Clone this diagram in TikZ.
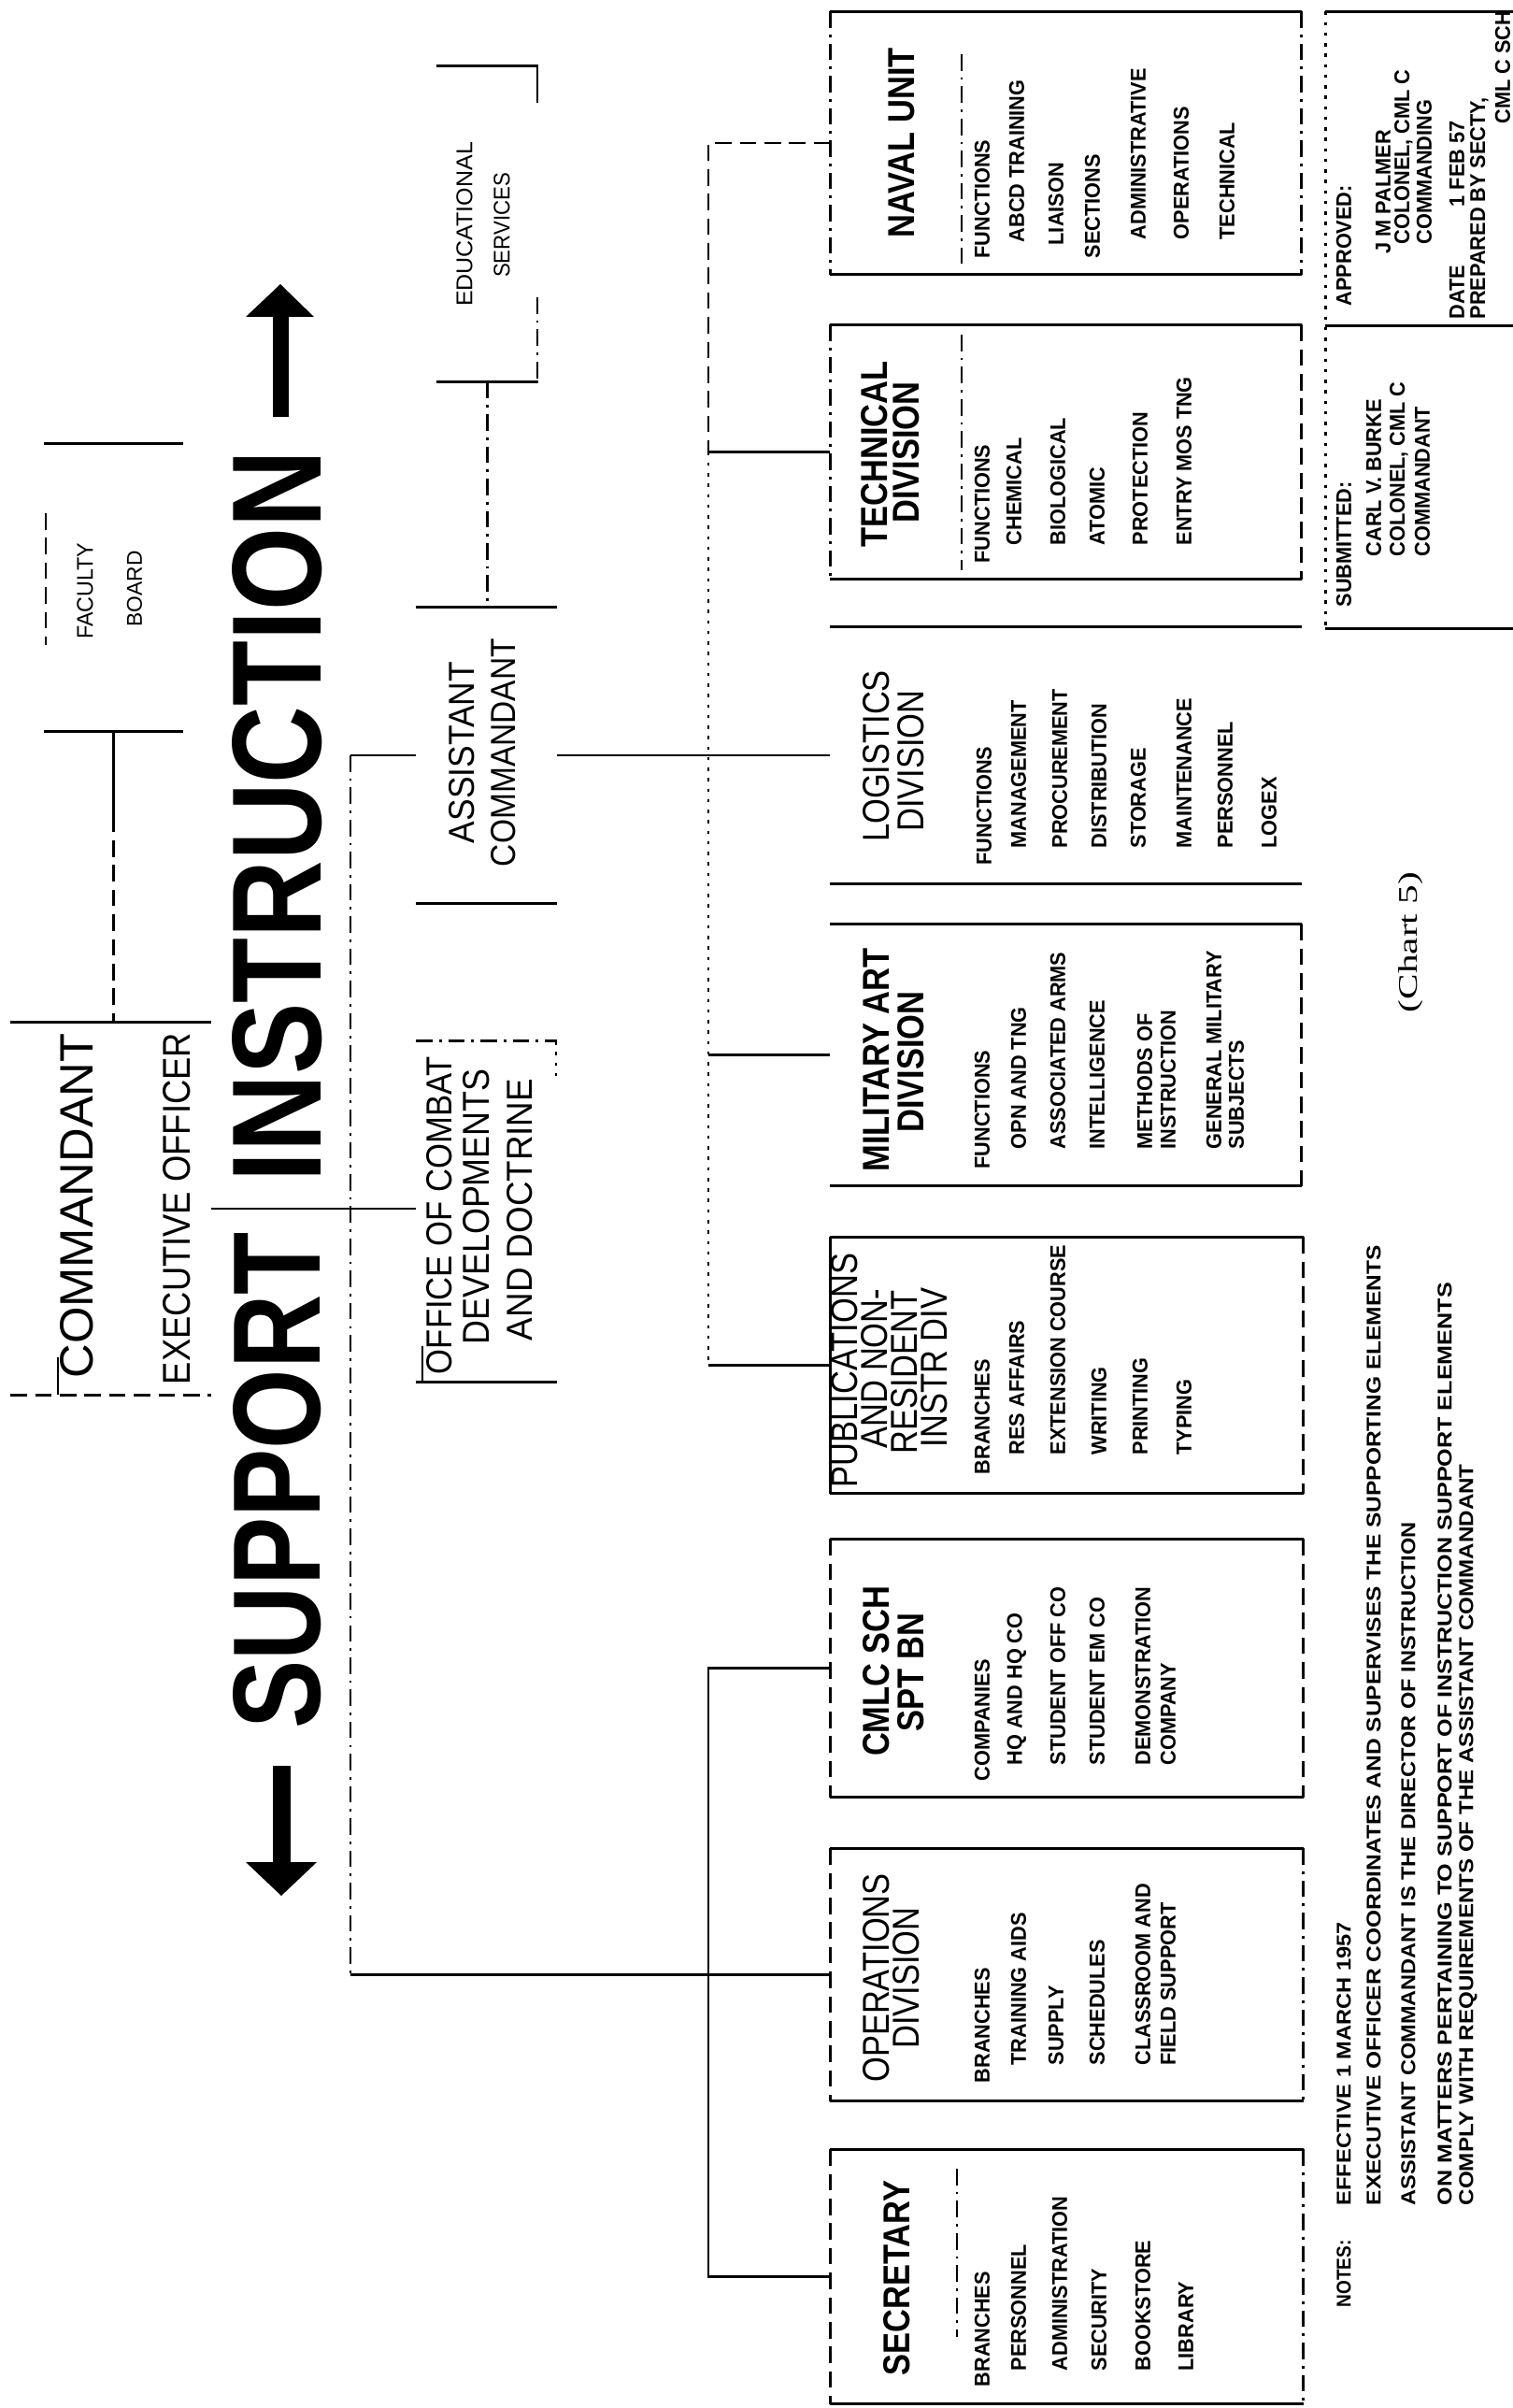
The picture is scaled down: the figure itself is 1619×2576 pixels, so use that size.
\documentclass[tikz,border=0pt]{standalone}
\usepackage{fontspec}
\setmainfont{Liberation Sans}
\newfontfamily\itemf[FakeStretch=0.95]{Liberation Sans}
\newfontfamily\ttlf[FakeStretch=0.86]{Liberation Sans}
\newfontfamily\serf{Liberation Serif}
\usetikzlibrary{fit}
\newlength\pxu \setlength\pxu{0.01cm}
\newcommand\myitemfont{\itemf\bfseries\fontsize{6.5pt}{8pt}\selectfont}
\newcommand\mytitlefont{\ttlf\fontsize{11.4pt}{12pt}\selectfont}
\newcounter{nn}
\newcommand\IT[3]{\stepcounter{nn}\node[itm] (it\arabic{nn}) at (#1,#2) {#3};}
\newcommand\TT[3]{\stepcounter{nn}\node[ttl] (tt\arabic{nn}) at (#1,#2) {#3};}
\newcommand\TB[3]{\stepcounter{nn}\node[ttl] (tt\arabic{nn}) at (#1,#2) {\bfseries #3};}
\newcommand\RZ[7]{\node[lbl] (#1) at (#2,#3) {\resizebox{#4\pxu}{#5\pxu}{#6#7}};}
\newcommand\NT[5]{\node[nte] (#1) at (#2,#3) {\resizebox{#4\pxu}{15\pxu}{\myitemfont #5}};}
\newcommand\BX[5]{\node[bx,fit={(#2,#3) (#4,#5)}] (#1) {};}
\begin{document}
\begin{tikzpicture}[x=0.01cm,y=-0.01cm,
  ln/.style={line width=0.75pt},
  dsh/.style={line width=0.7pt,dash pattern=on 5pt off 2.5pt},
  ddt/.style={line width=0.7pt,dash pattern=on 5pt off 2pt on 0.8pt off 2pt},
  dtt/.style={line width=0.7pt,dash pattern=on 1pt off 2.2pt},
  itm/.style={rotate=90,anchor=west,inner sep=0pt,font=\myitemfont},
  ttl/.style={rotate=90,anchor=center,inner sep=0pt,font=\mytitlefont},
  lbl/.style={rotate=90,anchor=center,inner sep=0pt},
  nte/.style={rotate=90,anchor=west,inner sep=0pt},
  bx/.style={inner sep=0pt,draw=none}]
\fill[white] (0,0) rectangle (1619,2576);
\useasboundingbox (0,0) rectangle (1619,2576);

% ---------- boxes ----------
\BX{naval}{889}{13}{1392}{293}
\BX{tech}{889}{348}{1392}{619}
\BX{logi}{889}{671}{1392}{945}
\BX{mil}{889}{989}{1392}{1268}
\BX{pub}{889}{1324}{1394}{1597}
\BX{cmlc}{889}{1647}{1394}{1922}
\BX{ops}{889}{1978}{1394}{2247}
\BX{sec}{889}{2300}{1394}{2571}
\BX{appr}{1419}{13}{1619}{348}
\BX{subm}{1419}{348}{1619}{672}
\BX{faculty}{48}{475}{195}{782}
\BX{cmd}{12}{1094}{225}{1492}
\BX{edu}{468}{71}{575}{408}
\BX{asst}{446}{650}{595}{966}
\BX{office}{446}{1114}{595}{1478}

% ---------- box outlines ----------
\foreach \b in {naval,tech,logi,mil,pub,cmlc,ops,sec,appr}{
  \draw[ln] (\b.north west) -- (\b.north east);
  \draw[ln] (\b.south west) -- (\b.south east);
}
\draw[ln] (subm.south west) -- (subm.south east);
\draw[ddt] (naval.north west) -- (naval.south west);
\draw[ddt] (naval.north east) -- (naval.south east);
\draw[ddt] (tech.north west) -- (tech.south west);
\draw[dsh] (tech.north east) -- (tech.south east);
\draw[dsh] (mil.north east) -- (mil.south east);
\draw[ln] (pub.north west) -- (pub.south west);
\draw[dsh] (pub.north east) -- (pub.south east);
\draw[dsh] (cmlc.north west) -- (cmlc.south west);
\draw[dsh] (cmlc.north east) -- (cmlc.south east);
\draw[dsh] (ops.north west) -- (ops.south west);
\draw[ddt] (ops.north east) -- (ops.south east);
\draw[dsh] (sec.north west) -- (sec.south west);
\draw[ddt] (sec.north east) -- (sec.south east);
\draw[dtt] (appr.north west) -- (subm.south west);
% separators under titles
\draw[ddt] (1029,58) -- (1029,285);
\draw[ddt] (1029,358) -- (1029,610);
\draw[ddt] (1024,2320) -- (1024,2500);
% upper boxes
\draw[ln] (faculty.north west) -- (faculty.north east);
\draw[ln] (faculty.south west) -- (faculty.south east);
\draw[dsh] (49,549) -- (49,690);
\draw[ln] (cmd.north west) -- (cmd.north east);
\draw[dsh] (cmd.south west) -- (cmd.south east);
\draw[ln] (62,1452) -- (62,1492);
\draw[ln] (edu.north west) -- (edu.north east);
\draw[ln] (edu.south west) -- (edu.south east);
\draw[ln] (575,71) -- (575,110);
\draw[ddt] (575,318) -- (575,408);
\draw[ln] (asst.north west) -- (asst.north east);
\draw[ln] (asst.south west) -- (asst.south east);
\draw[ddt] (office.north west) -- (office.north east);
\draw[ln] (office.south west) -- (office.south east);
\draw[dtt] (595,1114) -- (595,1154);
\draw[ln] (452,1440) -- (452,1478);

% ---------- connectors ----------
\coordinate (rb) at (758,0);
\coordinate (lb) at (375,0);
\draw[ln] (faculty.south) -- ++(0,90) coordinate (fc1);
\draw[dsh] (fc1) -- (faculty.south |- cmd.north);
\draw[ln] (cmd.east) -- (cmd.east -| office.west);
\draw[ddt] (edu.south) -- (edu.south |- asst.north);
\draw[ln] (asst.east) -- (logi.west);
\draw[ln] (asst.west) -- (asst.west -| lb);
\draw[ddt] (asst.west -| lb) -- (ops.west -| lb);
\draw[ln] (ops.west -| lb) -- (ops.west);
\draw[dsh] (naval.west) -- (naval.west -| rb) -- (tech.west -| rb);
\draw[ln] (tech.west -| rb) -- (tech.west);
\draw[dtt] (tech.west -| rb) -- (pub.west -| rb);
\draw[ln] (mil.west -| rb) -- (mil.west);
\draw[ln] (pub.west -| rb) -- (pub.west);
\draw[ln] (cmlc.west) -- (cmlc.west -| rb) -- (sec.west -| rb) -- (sec.west);

% ---------- big heading ----------
\RZ{supT}{297}{1584}{531}{93}{\bfseries}{SUPPORT}
\RZ{insT}{297}{873}{782}{95}{\bfseries}{INSTRUCTION}
\fill (292,339) rectangle (309,446);
\fill (263,339) -- (336,339) -- (300,304) -- cycle;
\fill (292,1889) rectangle (311,1992);
\fill (263,1992) -- (339,1992) -- (301,2028) -- cycle;

% ---------- upper labels ----------
\RZ{cmdT}{82}{1290}{369}{35}{\normalfont}{COMMANDANT}
\RZ{exoT}{189}{1293}{376}{29}{\normalfont}{EXECUTIVE OFFICER}
\RZ{facT}{91}{632}{103}{17}{\normalfont}{FACULTY}
\RZ{boaT}{144}{630}{81}{16}{\normalfont}{BOARD}
\RZ{eduT}{497}{240}{176}{17}{\normalfont}{EDUCATIONAL}
\RZ{serT}{537}{241}{112}{17}{\normalfont}{SERVICES}
\RZ{asT}{494}{805}{194}{27}{\normalfont}{ASSISTANT}
\RZ{acT}{539}{805}{244}{26}{\normalfont}{COMMANDANT}
\RZ{ofT}{470}{1300}{340}{27}{\normalfont}{OFFICE OF COMBAT}
\RZ{deT}{510}{1291}{295}{28}{\normalfont}{DEVELOPMENTS}
\RZ{adT}{556}{1294}{280}{27}{\normalfont}{AND DOCTRINE}

% ---------- box titles ----------
\TB{965}{153}{NAVAL UNIT}
\TB{936}{486}{TECHNICAL}\TB{970}{484}{DIVISION}
\TT{938}{809}{LOGISTICS}\TT{975}{814}{DIVISION}
\TB{938}{1134}{MILITARY ART}\TB{975}{1136}{DIVISION}
\TT{904}{1466}{PUBLICATIONS}\TT{936}{1464}{AND NON-}\TT{968}{1468}{RESIDENT}\TT{1000}{1463}{INSTR DIV}
\TB{938}{1788}{CMLC SCH}\TB{975}{1789}{SPT BN}
\TT{938}{2116}{OPERATIONS}\TT{970}{2116}{DIVISION}
\TB{960}{2437}{SECRETARY}

% ---------- items ----------
\IT{1051}{277}{FUNCTIONS}
\IT{1088}{260}{ABCD TRAINING}
\IT{1130}{263}{LIAISON}
\IT{1169}{277}{SECTIONS}
\IT{1218}{257}{ADMINISTRATIVE}
\IT{1264}{257}{OPERATIONS}
\IT{1313}{257}{TECHNICAL}

\IT{1051}{603}{FUNCTIONS}
\IT{1085}{584}{CHEMICAL}
\IT{1132}{584}{BIOLOGICAL}
\IT{1174}{584}{ATOMIC}
\IT{1220}{584}{PROTECTION}
\IT{1267}{584}{ENTRY MOS TNG}

\IT{1053}{926}{FUNCTIONS}
\IT{1090}{908}{MANAGEMENT}
\IT{1134}{908}{PROCUREMENT}
\IT{1176}{908}{DISTRIBUTION}
\IT{1218}{908}{STORAGE}
\IT{1267}{908}{MAINTENANCE}
\IT{1311}{908}{PERSONNEL}
\IT{1358}{908}{LOGEX}

\IT{1051}{1251}{FUNCTIONS}
\IT{1090}{1230}{OPN AND TNG}
\IT{1132}{1230}{ASSOCIATED ARMS}
\IT{1174}{1230}{INTELLIGENCE}
\IT{1225}{1230}{METHODS OF}
\IT{1250}{1230}{INSTRUCTION}
\IT{1299}{1230}{GENERAL MILITARY}
\IT{1323}{1230}{SUBJECTS}

\IT{1051}{1578}{BRANCHES}
\IT{1088}{1557}{RES AFFAIRS}
\IT{1132}{1557}{EXTENSION COURSE}
\IT{1176}{1557}{WRITING}
\IT{1220}{1557}{PRINTING}
\IT{1267}{1557}{TYPING}

\IT{1051}{1906}{COMPANIES}
\IT{1088}{1889}{HQ AND HQ CO}
\IT{1132}{1889}{STUDENT OFF CO}
\IT{1174}{1889}{STUDENT EM CO}
\IT{1223}{1889}{DEMONSTRATION}
\IT{1250}{1889}{COMPANY}

\IT{1051}{2229}{BRANCHES}
\IT{1090}{2210}{TRAINING AIDS}
\IT{1130}{2210}{SUPPLY}
\IT{1174}{2210}{SCHEDULES}
\IT{1223}{2210}{CLASSROOM AND}
\IT{1250}{2210}{FIELD SUPPORT}

\IT{1051}{2554}{BRANCHES}
\IT{1090}{2537}{PERSONNEL}
\IT{1134}{2537}{ADMINISTRATION}
\IT{1176}{2537}{SECURITY}
\IT{1223}{2537}{BOOKSTORE}
\IT{1269}{2537}{LIBRARY}

% ---------- approval blocks ----------
\IT{1438}{328}{APPROVED:}
\IT{1480}{272}{J M PALMER}
\IT{1502}{262}{COLONEL, CML C}
\IT{1524}{262}{COMMANDING}
\IT{1559}{342}{DATE}
\IT{1559}{222}{1 FEB 57}
\IT{1583}{342}{PREPARED BY SECTY,}
\IT{1608}{133}{CML C SCH}
\IT{1438}{650}{SUBMITTED:}
\IT{1470}{596}{CARL V. BURKE}
\IT{1497}{596}{COLONEL, CML C}
\IT{1522}{596}{COMMANDANT}

% ---------- notes ----------
\NT{nt0}{1438}{2469}{72}{NOTES:}
\NT{nt1}{1438}{2360}{303}{EFFECTIVE 1 MARCH 1957}
\NT{nt2}{1470}{2360}{1027}{EXECUTIVE OFFICER COORDINATES AND SUPERVISES THE SUPPORTING ELEMENTS}
\NT{nt3}{1507}{2360}{731}{ASSISTANT COMMANDANT IS THE DIRECTOR OF INSTRUCTION}
\NT{nt4}{1546}{2360}{987}{ON MATTERS PERTAINING TO SUPPORT OF INSTRUCTION SUPPORT ELEMENTS}
\NT{nt5}{1571}{2360}{793}{COMPLY WITH REQUIREMENTS OF THE ASSISTANT COMMANDANT}
\node[lbl] (chartT) at (1510,1008) {\resizebox{150\pxu}{20\pxu}{\serf (Chart 5)}};
\end{tikzpicture}
\end{document}
